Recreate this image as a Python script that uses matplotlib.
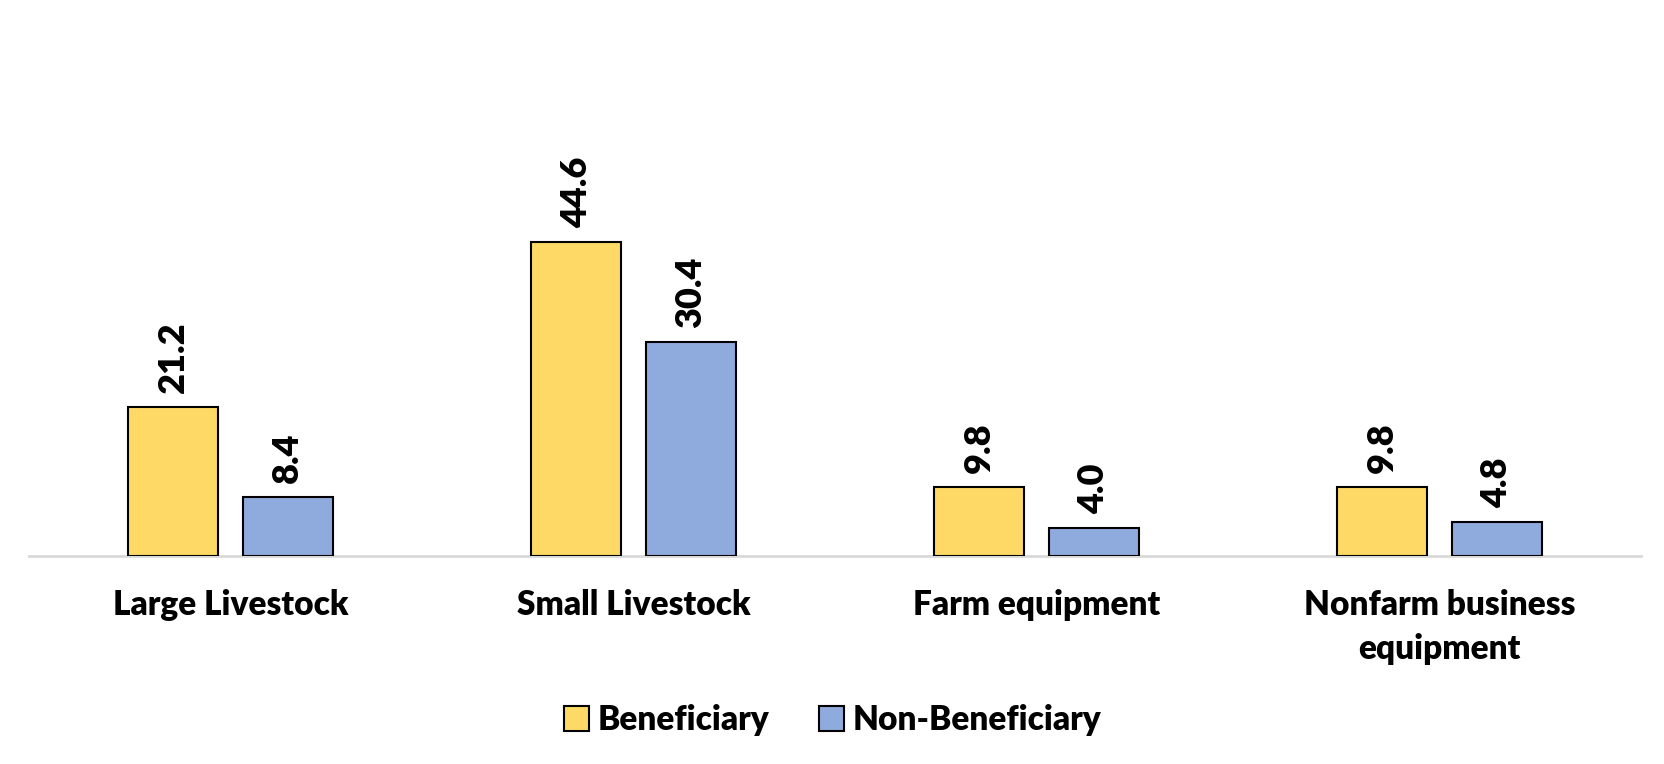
import numpy as np
import matplotlib as mpl
mpl.use('Agg')
import matplotlib.pyplot as plt

plt.rcParams['font.family'] = ['Lato', 'DejaVu Sans']
plt.rcParams['font.weight'] = 'heavy'

categories = ["Large Livestock", "Small Livestock", "Farm equipment",
              "Nonfarm business\nequipment"]
beneficiary = [21.2, 44.6, 9.8, 9.8]
non_beneficiary = [8.4, 30.4, 4.0, 4.8]
series_names = ["Beneficiary", "Non-Beneficiary"]
colors = ["#FFD966", "#8FAADC"]

W, H = 1665, 764
fig = plt.figure(figsize=(W / 100, H / 100), dpi=100)
ax = fig.add_axes([29 / W, (H - 556) / H, (1641 - 29) / W, (556 - 63) / H])

x = np.arange(len(categories))
width = 0.224
offset = 0.142

for vals, name, col, sign in zip([beneficiary, non_beneficiary], series_names,
                                 colors, [-1, 1]):
    bars = ax.bar(x + sign * offset, vals, width, color=col, edgecolor='black',
                  linewidth=1.5, label=name, zorder=3)
    for b, v in zip(bars, vals):
        ax.annotate("%.1f" % v, (b.get_x() + b.get_width() / 2, v),
                    xytext=(0, 10), textcoords='offset points',
                    ha='center', va='bottom', rotation=90,
                    fontsize=26, fontweight='heavy')

ax.set_xlim(-0.5, len(categories) - 0.5)
ax.set_ylim(0, 70)
ax.set_yticks([])
for s in ['top', 'right', 'left']:
    ax.spines[s].set_visible(False)
ax.spines['bottom'].set_color('#D9D9D9')
ax.spines['bottom'].set_linewidth(2)
ax.set_xticks(x)
ax.set_xticklabels(categories, fontsize=24, fontweight='heavy', linespacing=1.45)
ax.tick_params(axis='x', length=0, pad=24)

fig.legend(loc='center', bbox_to_anchor=(0.5, 1 - 720 / H), ncol=2,
           frameon=False, fontsize=24, handlelength=0.75, handleheight=0.75,
           handletextpad=0.25, columnspacing=1.5)

plt.savefig("out.png", dpi=100)
